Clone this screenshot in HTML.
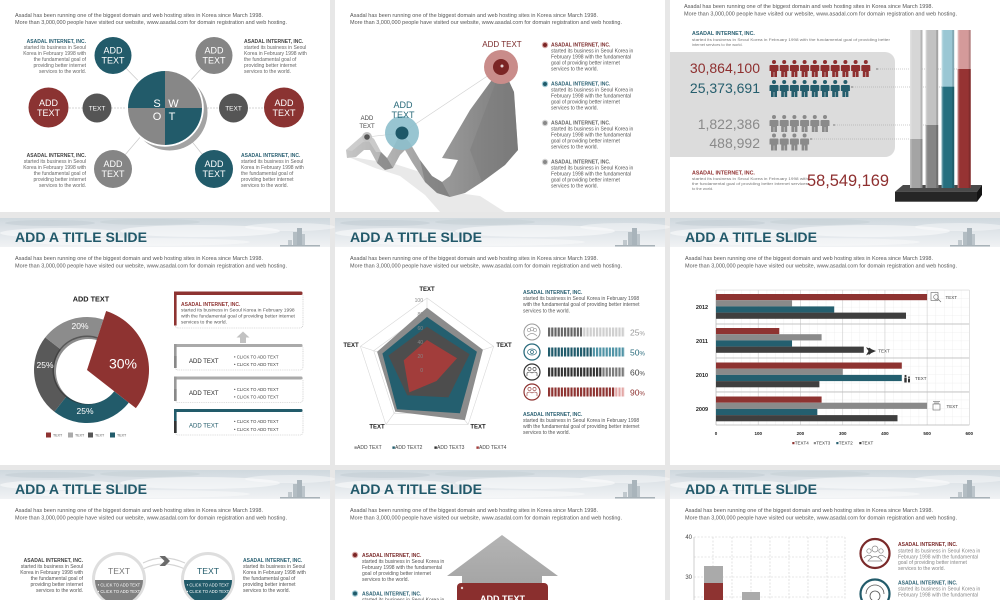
<!DOCTYPE html>
<html><head><meta charset="utf-8"><style>
html,body{margin:0;padding:0;background:#e7e7e7;}
svg{display:block;}
text{font-family:"Liberation Sans",Arial,sans-serif;}
</style></head><body>
<svg width="1000" height="600" viewBox="0 0 1000 600" xmlns="http://www.w3.org/2000/svg">
<defs>
<linearGradient id="sky" x1="0" y1="0" x2="0" y2="1">
<stop offset="0" stop-color="#cfd8de"/><stop offset="0.5" stop-color="#e1e6ea"/><stop offset="1" stop-color="#f0f2f4"/>
</linearGradient>
<linearGradient id="rib" x1="0" y1="0" x2="1" y2="0">
<stop offset="0" stop-color="#c6c6c6"/><stop offset="0.45" stop-color="#a2a2a2"/><stop offset="1" stop-color="#7a7a7a"/>
</linearGradient>
<linearGradient id="arr" x1="0" y1="0" x2="0" y2="1">
<stop offset="0" stop-color="#b4b4b4"/><stop offset="1" stop-color="#a0a0a0"/>
</linearGradient>
<pattern id="seg" x="548" y="0" width="3.2" height="10" patternUnits="userSpaceOnUse"><rect x="2.2" y="0" width="1" height="10" fill="#fff"/></pattern>
<pattern id="hgrid" x="716" y="290" width="8.444" height="8.4375" patternUnits="userSpaceOnUse"><path d="M0,0 V8.4375 M0,0 H8.444" stroke="#e3e3e3" stroke-width="0.5" fill="none"/></pattern>
<g id="pp"><circle cx="0" cy="2" r="2"/><path d="M-3.5,5h7a1,1 0 0 1 1,1v5h-1.5v6h-2.7v-5h-0.6v5h-2.7v-6h-1.5v-5a1,1 0 0 1 1,-1z"/></g>
<g id="hdr">
<rect x="0" y="0" width="330" height="29" fill="url(#sky)"/>
<ellipse cx="50" cy="5" rx="45" ry="3" fill="#c3cdd4" opacity="0.6"/>
<ellipse cx="150" cy="4" rx="50" ry="3" fill="#c7d0d6" opacity="0.6"/>
<ellipse cx="60" cy="15" rx="60" ry="5" fill="#fff" opacity="0.5"/>
<ellipse cx="200" cy="13" rx="80" ry="6" fill="#fff" opacity="0.5"/>
<ellipse cx="290" cy="9" rx="45" ry="4" fill="#fff" opacity="0.4"/>
<ellipse cx="140" cy="24" rx="110" ry="4" fill="#fff" opacity="0.4"/>
<rect x="293" y="14" width="4" height="14" fill="#b3bdc3"/>
<rect x="297" y="10" width="5" height="18" fill="#a9b4bb"/>
<rect x="302" y="16" width="3" height="12" fill="#bcc5cb"/>
<rect x="288" y="22" width="4" height="6" fill="#c0c8cd"/>
<rect x="280" y="27" width="40" height="1.5" fill="#a8b2b8"/>
<text x="15" y="24" font-size="14" font-weight="bold" fill="#22596a" textLength="132" lengthAdjust="spacingAndGlyphs">ADD A TITLE SLIDE</text>
<text x="15" y="42" font-size="5.5" fill="#555" textLength="248" lengthAdjust="spacingAndGlyphs">Asadal has been running one of the biggest domain and web hosting sites in Korea since March 1998.</text>
<text x="15" y="49.5" font-size="5.5" fill="#555" textLength="272" lengthAdjust="spacingAndGlyphs">More than 3,000,000 people have visited our website, www.asadal.com for domain registration and web hosting.</text>
</g>
</defs>

<rect width="1000" height="600" fill="#e7e7e7"/>
<rect x="0" y="0" width="330" height="212" fill="#fff"/>
<rect x="335" y="0" width="330" height="212" fill="#fff"/>
<rect x="670" y="0" width="330" height="212" fill="#fff"/>
<rect x="0" y="218" width="330" height="247" fill="#fff"/>
<rect x="335" y="218" width="330" height="247" fill="#fff"/>
<rect x="670" y="218" width="330" height="247" fill="#fff"/>
<rect x="0" y="470" width="330" height="130" fill="#fff"/>
<rect x="335" y="470" width="330" height="130" fill="#fff"/>
<rect x="670" y="470" width="330" height="130" fill="#fff"/>

<use href="#hdr" x="0" y="218"/>
<use href="#hdr" x="335" y="218"/>
<use href="#hdr" x="670" y="218"/>
<use href="#hdr" x="0" y="470"/>
<use href="#hdr" x="335" y="470"/>
<use href="#hdr" x="670" y="470"/>

<!-- ROW1 PANEL1 SWOT -->
<text x="15" y="17" font-size="5.5" fill="#555" textLength="248" lengthAdjust="spacingAndGlyphs">Asadal has been running one of the biggest domain and web hosting sites in Korea since March 1998.</text>
<text x="15" y="24" font-size="5.5" fill="#555" textLength="272" lengthAdjust="spacingAndGlyphs">More than 3,000,000 people have visited our website, www.asadal.com for domain registration and web hosting.</text>
<g stroke="#c8c8c8" stroke-width="0.7" fill="none">
<line x1="113" y1="55" x2="165" y2="108"/>
<line x1="214" y1="55" x2="165" y2="108"/>
<line x1="113" y1="169" x2="165" y2="108"/>
<line x1="214" y1="169" x2="165" y2="108"/>
<line x1="48" y1="108" x2="284" y2="108" stroke-dasharray="2 1"/>
</g>
<circle cx="169.5" cy="112.5" r="38" fill="#a3a3a3"/>
<circle cx="165" cy="108" r="38.8" fill="#fff"/>
<path d="M165,108 L128,108 A37,37 0 0 1 165,71 Z" fill="#225b6a"/>
<path d="M165,108 L165,71 A37,37 0 0 1 202,108 Z" fill="#878787"/>
<path d="M165,108 L202,108 A37,37 0 0 1 165,145 Z" fill="#225b6a"/>
<path d="M165,108 L165,145 A37,37 0 0 1 128,108 Z" fill="#878787"/>
<g fill="#fff" font-size="11" text-anchor="middle">
<text x="157" y="107">S</text><text x="173.5" y="107">W</text>
<text x="157" y="120">O</text><text x="172" y="120">T</text>
</g>
<circle cx="113" cy="55.5" r="18.5" fill="#225b6a"/>
<circle cx="214" cy="55.5" r="18.5" fill="#858585"/>
<circle cx="113" cy="169" r="19" fill="#858585"/>
<circle cx="214" cy="169" r="19" fill="#225b6a"/>
<circle cx="48.5" cy="107.5" r="20" fill="#8b3332"/>
<circle cx="284" cy="107.5" r="20" fill="#8b3332"/>
<circle cx="97" cy="108" r="14.5" fill="#555"/>
<circle cx="233.5" cy="108" r="14.5" fill="#555"/>
<g fill="#fff" font-size="9" text-anchor="middle">
<text x="113" y="53.5">ADD</text><text x="113" y="63.5">TEXT</text>
<text x="214" y="53.5">ADD</text><text x="214" y="63.5">TEXT</text>
<text x="113" y="167">ADD</text><text x="113" y="177">TEXT</text>
<text x="214" y="167">ADD</text><text x="214" y="177">TEXT</text>
<text x="48.5" y="106">ADD</text><text x="48.5" y="116">TEXT</text>
<text x="284" y="106">ADD</text><text x="284" y="116">TEXT</text>
<text x="97" y="110.5" font-size="6.5">TEXT</text>
<text x="233.5" y="110.5" font-size="6.5">TEXT</text>
</g>
<g font-size="5" fill="#666" text-anchor="end">
<text x="86" y="43" font-weight="bold" fill="#2a6072">ASADAL INTERNET, INC.</text>
<text x="86" y="49">started its business in Seoul</text>
<text x="86" y="55">Korea in February 1998 with</text>
<text x="86" y="61">the fundamental goal of</text>
<text x="86" y="67">providing better internet</text>
<text x="86" y="73">services to the world.</text>
<text x="86" y="157" font-weight="bold" fill="#444">ASADAL INTERNET, INC.</text>
<text x="86" y="163">started its business in Seoul</text>
<text x="86" y="169">Korea in February 1998 with</text>
<text x="86" y="175">the fundamental goal of</text>
<text x="86" y="181">providing better internet</text>
<text x="86" y="187">services to the world.</text>
</g>
<g font-size="5" fill="#666">
<text x="244" y="43" font-weight="bold" fill="#444">ASADAL INTERNET, INC.</text>
<text x="244" y="49">started its business in Seoul</text>
<text x="244" y="55">Korea in February 1998 with</text>
<text x="244" y="61">the fundamental goal of</text>
<text x="244" y="67">providing better internet</text>
<text x="244" y="73">services to the world.</text>
<text x="241" y="157" font-weight="bold" fill="#2a6072">ASADAL INTERNET, INC.</text>
<text x="241" y="163">started its business in Seoul</text>
<text x="241" y="169">Korea in February 1998 with</text>
<text x="241" y="175">the fundamental goal of</text>
<text x="241" y="181">providing better internet</text>
<text x="241" y="187">services to the world.</text>
</g>

<!-- ROW1 PANEL2 ARROW -->
<text x="350" y="17" font-size="5.5" fill="#555" textLength="248" lengthAdjust="spacingAndGlyphs">Asadal has been running one of the biggest domain and web hosting sites in Korea since March 1998.</text>
<text x="350" y="24" font-size="5.5" fill="#555" textLength="272" lengthAdjust="spacingAndGlyphs">More than 3,000,000 people have visited our website, www.asadal.com for domain registration and web hosting.</text>
<path d="M346,156 L375,168 L400,176 L425,195 L440,212 L505,212 L480,196 L450,192 L420,172 L395,164 L370,160 Z" fill="#e9e9e9"/>
<path d="M346,150 L355,142 L362,136 L368,134 L374,139 L381,152 L387,158 L393,148 L398,138 L404,136 L410,143 L420,160 L432,176 L442,182 L450,176 L458,160 L442,158 L470,110 L502,66 L514,92 L518,150 L505,165 L482,182 L465,193 L450,197 L437,193 L425,182 L412,162 L405,150 L400,155 L393,168 L385,170 L377,163 L370,150 L364,150 L356,157 L347,158 Z" fill="url(#rib)"/>
<path d="M346,150 L355,142 L362,136 L368,134 L374,139 L381,152 L376,152 L369,141 L363,142 L352,151 Z" fill="#d2d2d2" opacity="0.7"/>
<path d="M381,152 L387,158 L393,168 L385,170 L377,163 Z" fill="#777" opacity="0.6"/>
<path d="M420,160 L432,176 L442,182 L450,197 L437,193 L425,182 Z" fill="#6e6e6e" opacity="0.5"/>
<path d="M502,66 L514,92 L518,150 L505,165 L482,182 L470,150 Z" fill="#7b7b7b" opacity="0.45"/>
<polyline points="367,137 402,133 501,67" fill="none" stroke="#cfcfcf" stroke-width="0.6"/>
<circle cx="501" cy="67" r="17" fill="#c98c8a"/>
<circle cx="501" cy="67" r="8" fill="#7b2525"/>
<circle cx="502" cy="66" r="1.5" fill="#fff" opacity="0.8"/>
<circle cx="402" cy="133" r="17" fill="#8dbfcc" opacity="0.9"/>
<circle cx="402" cy="133" r="6.5" fill="#1d5868"/>
<circle cx="367" cy="137" r="5" fill="#c4c4c4"/>
<circle cx="367" cy="137" r="2.8" fill="#555"/>
<text x="502" y="47" font-size="8" fill="#7a2a2a" text-anchor="middle">ADD TEXT</text>
<text x="403" y="108" font-size="9" fill="#2a6a7a" text-anchor="middle">ADD</text>
<text x="403" y="118" font-size="9" fill="#2a6a7a" text-anchor="middle">TEXT</text>
<text x="367" y="120" font-size="6" fill="#444" text-anchor="middle">ADD</text>
<text x="367" y="128" font-size="6" fill="#444" text-anchor="middle">TEXT</text>
<circle cx="545" cy="45" r="3.2" fill="#d4a3a2"/><circle cx="545" cy="45" r="2" fill="#7b2525"/>
<circle cx="545" cy="84" r="3.2" fill="#9cc7d2"/><circle cx="545" cy="84" r="2" fill="#1f5a6a"/>
<circle cx="545" cy="123" r="3.2" fill="#d2d2d2"/><circle cx="545" cy="123" r="2" fill="#888"/>
<circle cx="545" cy="162" r="3.2" fill="#d2d2d2"/><circle cx="545" cy="162" r="2" fill="#888"/>
<g font-size="5" fill="#555">
<text x="551" y="46.5" font-weight="bold" fill="#7a2a2a">ASADAL INTERNET, INC.</text>
<text x="551" y="52.5">started its business in Seoul Korea in</text>
<text x="551" y="58.5">February 1998 with the fundamental</text>
<text x="551" y="64.5">goal of  providing better internet</text>
<text x="551" y="70.5">services to the world.</text>
<text x="551" y="85.5" font-weight="bold" fill="#2a6072">ASADAL INTERNET, INC.</text>
<text x="551" y="91.5">started its business in Seoul Korea in</text>
<text x="551" y="97.5">February 1998 with the fundamental</text>
<text x="551" y="103.5">goal of  providing better internet</text>
<text x="551" y="109.5">services to the world.</text>
<text x="551" y="124.5" font-weight="bold" fill="#666">ASADAL INTERNET, INC.</text>
<text x="551" y="130.5">started its business in Seoul Korea in</text>
<text x="551" y="136.5">February 1998 with the fundamental</text>
<text x="551" y="142.5">goal of  providing better internet</text>
<text x="551" y="148.5">services to the world.</text>
<text x="551" y="163.5" font-weight="bold" fill="#666">ASADAL INTERNET, INC.</text>
<text x="551" y="169.5">started its business in Seoul Korea in</text>
<text x="551" y="175.5">February 1998 with the fundamental</text>
<text x="551" y="181.5">goal of  providing better internet</text>
<text x="551" y="187.5">services to the world.</text>
</g>

<!-- ROW1 PANEL3 -->
<text x="684" y="8" font-size="5.5" fill="#555" textLength="249" lengthAdjust="spacingAndGlyphs">Asadal has been running one of the biggest domain and web hosting sites in Korea since March 1998.</text>
<text x="684" y="15.5" font-size="5.5" fill="#555" textLength="273" lengthAdjust="spacingAndGlyphs">More than 3,000,000 people have visited our website, www.asadal.com for domain registration and web hosting.</text>
<text x="692" y="35" font-size="5.3" font-weight="bold" fill="#2a6072">ASADAL INTERNET, INC.</text>
<text x="692" y="41" font-size="3.9" fill="#777" textLength="198" lengthAdjust="spacingAndGlyphs">started its business in Seoul Korea in February 1998 with the fundamental goal of  providing better</text>
<text x="692" y="46" font-size="3.9" fill="#777">internet services to the world.</text>
<path d="M670,52 H885 A10,10 0 0 1 895,62 V147 A10,10 0 0 1 885,157 H670 Z" fill="#dcdcdc"/>
<g font-size="14" text-anchor="end">
<text x="760" y="73" fill="#8e2f2f">30,864,100</text>
<text x="760" y="93" fill="#255e6d">25,373,691</text>
<text x="760" y="129" fill="#8a8a8a">1,822,386</text>
<text x="760" y="148" fill="#8a8a8a">488,992</text>
</g>
<g fill="#8e2f2f">
<use href="#pp" x="774" y="60"/><use href="#pp" x="784.2" y="60"/><use href="#pp" x="794.4" y="60"/><use href="#pp" x="804.6" y="60"/><use href="#pp" x="814.8" y="60"/><use href="#pp" x="825" y="60"/><use href="#pp" x="835.2" y="60"/><use href="#pp" x="845.4" y="60"/><use href="#pp" x="855.6" y="60"/><use href="#pp" x="865.8" y="60"/>
</g>
<g fill="#255e6d">
<use href="#pp" x="774" y="80"/><use href="#pp" x="784.2" y="80"/><use href="#pp" x="794.4" y="80"/><use href="#pp" x="804.6" y="80"/><use href="#pp" x="814.8" y="80"/><use href="#pp" x="825" y="80"/><use href="#pp" x="835.2" y="80"/><use href="#pp" x="845.4" y="80"/>
</g>
<g fill="#8a8a8a">
<use href="#pp" x="774" y="115"/><use href="#pp" x="784.2" y="115"/><use href="#pp" x="794.4" y="115"/><use href="#pp" x="804.6" y="115"/><use href="#pp" x="814.8" y="115"/><use href="#pp" x="825" y="115"/>
<use href="#pp" x="774" y="133.5"/><use href="#pp" x="784.2" y="133.5"/><use href="#pp" x="794.4" y="133.5"/><use href="#pp" x="804.6" y="133.5"/>
</g>
<g stroke="#9a9a9a" stroke-width="0.6" stroke-dasharray="1 1" fill="none">
<line x1="878" y1="69" x2="958" y2="69"/>
<line x1="853" y1="87" x2="942" y2="87"/>
<line x1="835" y1="125" x2="926" y2="125"/>
<line x1="812" y1="139" x2="910" y2="139"/>
</g>
<g fill="#888"><circle cx="877" cy="69" r="0.9"/><circle cx="852" cy="87" r="0.9"/><circle cx="834" cy="125" r="0.9"/><circle cx="811" cy="139" r="0.9"/></g>
<polygon points="895,191.7 903,185 982,185 977,191.7" fill="#4a4a4a"/>
<rect x="895" y="191.7" width="82" height="10" fill="#262626"/>
<polygon points="977,191.7 982,185 982,195 977,201.7" fill="#141414"/>
<rect x="910" y="30" width="12.5" height="158" fill="#d6d6d6"/><rect x="910" y="139" width="12.5" height="49" fill="#a4a4a4"/>
<rect x="925.7" y="30" width="12.5" height="158" fill="#c2c2c2"/><rect x="925.7" y="125" width="12.5" height="63" fill="#858585"/>
<rect x="941.7" y="30" width="12.5" height="158" fill="#9ac7d4"/><rect x="941.7" y="86.7" width="12.5" height="101.3" fill="#266f7f"/>
<rect x="957.7" y="30" width="13" height="158" fill="#d49a9a"/><rect x="957.7" y="69" width="13" height="119" fill="#963333"/>
<g fill="#000" opacity="0.15">
<rect x="920.5" y="30" width="2" height="158"/><rect x="936.2" y="30" width="2" height="158"/><rect x="952.2" y="30" width="2" height="158"/><rect x="968.7" y="30" width="2" height="158"/>
</g>
<g fill="#fff" opacity="0.25">
<rect x="910" y="30" width="1.5" height="158"/><rect x="925.7" y="30" width="1.5" height="158"/><rect x="941.7" y="30" width="1.5" height="158"/><rect x="957.7" y="30" width="1.5" height="158"/>
</g>
<text x="692" y="174.5" font-size="5.3" font-weight="bold" fill="#8e2f2f">ASADAL INTERNET, INC.</text>
<text x="692" y="180" font-size="3.9" fill="#777" textLength="116" lengthAdjust="spacingAndGlyphs">started its business in Seoul Korea in February 1998 with</text>
<text x="692" y="185" font-size="3.9" fill="#777" textLength="116" lengthAdjust="spacingAndGlyphs">the fundamental goal of  providing better internet services</text>
<text x="692" y="190" font-size="3.9" fill="#777">to the world.</text>
<text x="807" y="186" font-size="16.4" fill="#8e2f2f" textLength="82" lengthAdjust="spacingAndGlyphs">58,549,169</text>

<!-- ROW2 PANEL1 DONUT -->
<text x="91" y="301.5" font-size="7.3" font-weight="bold" fill="#222" text-anchor="middle">ADD TEXT</text>
<path d="M128.76,402.63 A53,53 0 0 1 54.37,411.76 L66.68,396.0 A33,33 0 0 0 113.0,390.32 Z" fill="#225b6a"/>
<path d="M54.37,411.76 A53,53 0 0 1 45.24,337.37 L61.0,349.68 A33,33 0 0 0 66.68,396.0 Z" fill="#595959"/>
<path d="M45.24,337.37 A53,53 0 0 1 103.38,319.59 L97.2,338.61 A33,33 0 0 0 61.0,349.68 Z" fill="#8c8c8c"/>
<circle cx="87" cy="370" r="34.5" fill="#2e2e2e" opacity="0.55"/>
<circle cx="88.5" cy="371.5" r="32.5" fill="#fff"/>
<path d="M87,370 L106.16,311.03 A62,62 0 0 1 135.86,408.17 Z" fill="#8e3331"/>
<g fill="#fff" text-anchor="middle">
<text x="80" y="329" font-size="8.5">20%</text>
<text x="45" y="368" font-size="8.5">25%</text>
<text x="85" y="414" font-size="8.5">25%</text>
<text x="123" y="368.5" font-size="14">30%</text>
</g>
<g font-size="3.6" fill="#555">
<rect x="46" y="432.5" width="5" height="5" fill="#8e3331"/><text x="53" y="436.5">TEXT</text>
<rect x="68" y="432.5" width="5" height="5" fill="#aaa"/><text x="75" y="436.5">TEXT</text>
<rect x="88" y="432.5" width="5" height="5" fill="#555"/><text x="95" y="436.5">TEXT</text>
<rect x="110" y="432.5" width="5" height="5" fill="#225b6a"/><text x="117" y="436.5">TEXT</text>
</g>
<g fill="none" stroke="#bbb" stroke-width="0.6" stroke-dasharray="1 0.8">
<rect x="175" y="293" width="128" height="35" rx="3"/>
<rect x="175" y="345" width="128" height="25" rx="3"/>
<rect x="175" y="377.5" width="128" height="25" rx="3"/>
<rect x="175" y="410" width="128" height="25" rx="3"/>
</g>
<rect x="174" y="291.5" width="128.5" height="3.5" rx="1.5" fill="#8e3331"/>
<rect x="174" y="291.5" width="2.6" height="34" fill="#8e3331"/>
<rect x="174" y="344" width="128.5" height="3" rx="1.2" fill="#aaa"/>
<rect x="174" y="344" width="2.6" height="24" fill="#999"/><rect x="174" y="356" width="2.6" height="12" fill="#888"/>
<rect x="174" y="376.5" width="128.5" height="3" rx="1.2" fill="#aaa"/>
<rect x="174" y="376.5" width="2.6" height="24" fill="#999"/><rect x="174" y="389" width="2.6" height="12" fill="#888"/>
<rect x="174" y="409" width="128.5" height="3" rx="1.2" fill="#225b6a"/>
<rect x="174" y="409" width="2.6" height="24" fill="#225b6a"/><rect x="174" y="421" width="2.6" height="12" fill="#333"/>
<text x="181" y="306" font-size="5" font-weight="bold" fill="#8e3331">ASADAL INTERNET, INC.</text>
<g font-size="4.9" fill="#555">
<text x="181" y="311.5">started its business in Seoul Korea in February 1998</text>
<text x="181" y="317.5">with the fundamental goal of  providing better internet</text>
<text x="181" y="323.5">services to the world.</text>
</g>
<polygon points="243,331.5 236.5,337.5 240,337.5 240,343 246,343 246,337.5 249.5,337.5" fill="#c2c2c2"/>
<g font-size="6" fill="#222">
<text x="189" y="363">ADD TEXT</text>
<text x="189" y="395">ADD TEXT</text>
<text x="189" y="427.5" fill="#225b6a">ADD TEXT</text>
</g>
<g font-size="4.3" fill="#444">
<text x="234" y="358.5">• CLICK TO ADD TEXT</text><text x="234" y="366">• CLICK TO ADD TEXT</text>
<text x="234" y="391">• CLICK TO ADD TEXT</text><text x="234" y="398.5">• CLICK TO ADD TEXT</text>
<text x="234" y="423">• CLICK TO ADD TEXT</text><text x="234" y="431">• CLICK TO ADD TEXT</text>
</g>

<!-- ROW2 PANEL2 RADAR -->
<g fill="none" stroke="#d8d8d8" stroke-width="0.6">
<polygon points="427,298 493.6,346.4 468.1,424.6 385.9,424.6 360.4,346.4"/>
<polygon points="427,312 480.3,350.7 459.9,413.3 394.1,413.3 373.7,350.7"/>
<polygon points="427,326 466.9,355 451.7,402 402.3,402 387.1,355"/>
<polygon points="427,340 453.6,359.3 443.5,390.7 410.5,390.7 400.4,359.3"/>
<polygon points="427,354 440.3,363.7 435.2,379.3 418.8,379.3 413.7,363.7"/>
<line x1="427" y1="368" x2="427" y2="298"/><line x1="427" y1="368" x2="493.6" y2="346.4"/><line x1="427" y1="368" x2="468.1" y2="424.6"/><line x1="427" y1="368" x2="385.9" y2="424.6"/><line x1="427" y1="368" x2="360.4" y2="346.4"/>
</g>
<polygon points="427,307.8 482.9,349.8 464.9,420.1 395.3,411.6 377.1,351.8" fill="#8c8c8c"/>
<polygon points="427,316.9 476.9,351.8 459.9,413.3 397,409.3 382.4,353.5" fill="#245f6f"/>
<polygon points="427,326.7 469.6,354.2 448.4,397.4 407.2,395.2 388.4,355.5" fill="#4d4d4d"/>
<polygon points="427,340 457,358.3 436.5,381 409.3,392.4 403.7,360.4" fill="#a23d3b"/>
<g font-size="5" fill="#888" text-anchor="end">
<text x="423" y="302">100</text><text x="423" y="316">80</text><text x="423" y="330">60</text><text x="423" y="344">40</text><text x="423" y="358">20</text><text x="423" y="372">0</text>
</g>
<g font-size="6" font-weight="bold" fill="#222" text-anchor="middle">
<text x="427" y="291">TEXT</text>
<text x="351" y="347">TEXT</text>
<text x="504" y="347">TEXT</text>
<text x="377" y="428.5">TEXT</text>
<text x="478" y="428.5">TEXT</text>
</g>
<g font-size="5" fill="#444">
<text x="354" y="449"><tspan fill="#999">■</tspan>ADD TEXT</text>
<text x="392" y="449"><tspan fill="#245f6f">■</tspan>ADD TEXT2</text>
<text x="434" y="449"><tspan fill="#333">■</tspan>ADD TEXT3</text>
<text x="476" y="449"><tspan fill="#a23d3b">■</tspan>ADD TEXT4</text>
</g>
<text x="523" y="294" font-size="5" font-weight="bold" fill="#2a6072">ASADAL INTERNET, INC.</text>
<g font-size="5" fill="#555">
<text x="523" y="300">started its business in Seoul Korea in February 1998</text>
<text x="523" y="306">with the fundamental goal of  providing better internet</text>
<text x="523" y="312.5">services to the world.</text>
</g>
<text x="523" y="416" font-size="5" font-weight="bold" fill="#2a6072">ASADAL INTERNET, INC.</text>
<g font-size="5" fill="#555">
<text x="523" y="422">started its business in Seoul Korea in February 1998</text>
<text x="523" y="428">with the fundamental goal of  providing better internet</text>
<text x="523" y="434">services to the world.</text>
</g>
<circle cx="532" cy="332" r="8" fill="#fff" stroke="#999" stroke-width="1"/>
<g fill="none" stroke="#999" stroke-width="0.6"><circle cx="529" cy="330" r="1.6"/><circle cx="535" cy="330" r="1.6"/><circle cx="532" cy="329" r="1.8"/><path d="M527,336 q5,-5 10,0"/></g>
<circle cx="532" cy="352" r="8" fill="#fff" stroke="#2a6b7c" stroke-width="1.3"/>
<g fill="none" stroke="#2a6b7c" stroke-width="0.7"><ellipse cx="532" cy="352" rx="4.5" ry="3"/><circle cx="532" cy="352" r="1.5"/></g>
<circle cx="532" cy="372" r="8" fill="#fff" stroke="#333" stroke-width="1.2"/>
<g fill="none" stroke="#333" stroke-width="0.6"><circle cx="529.5" cy="369" r="1.6"/><circle cx="534.5" cy="369" r="1.6"/><path d="M527,376 v-3 q2.5,-2 5,0 q2.5,-2 5,0 v3"/></g>
<circle cx="532" cy="392" r="8" fill="#fff" stroke="#8e3331" stroke-width="1.2"/>
<g fill="none" stroke="#8e3331" stroke-width="0.6"><circle cx="529.5" cy="389" r="1.6"/><circle cx="534.5" cy="389" r="1.6"/><path d="M527,396 v-3 q2.5,-2 5,0 q2.5,-2 5,0 v3"/></g>
<rect x="548" y="327.5" width="34" height="9" fill="#666"/><rect x="582" y="327.5" width="43" height="9" fill="#cfcfcf"/>
<rect x="548" y="347.5" width="44" height="9" fill="#1f5a6a"/><rect x="592" y="347.5" width="33" height="9" fill="#4f93a5"/>
<rect x="548" y="367.5" width="54" height="9" fill="#333"/><rect x="602" y="367.5" width="23" height="9" fill="#7a7a7a"/>
<rect x="548" y="387.5" width="67" height="9" fill="#8e3331"/><rect x="615" y="387.5" width="10" height="9" fill="#e3a7a6"/>
<rect x="548" y="327" width="78" height="70" fill="url(#seg)"/>
<g font-size="8.5">
<text x="630" y="335.5" fill="#999">25<tspan font-size="6">%</tspan></text>
<text x="630" y="355.5" fill="#2a6b7c">50<tspan font-size="6">%</tspan></text>
<text x="630" y="375.5" fill="#444">60<tspan font-size="6">%</tspan></text>
<text x="630" y="395.5" fill="#8e3331">90<tspan font-size="6">%</tspan></text>
</g>

<!-- ROW2 PANEL3 HBAR -->
<rect x="716" y="290" width="253" height="135" fill="url(#hgrid)"/>
<g stroke="#d0d0d0" stroke-width="0.6">
<line x1="758.2" y1="290" x2="758.2" y2="425"/><line x1="800.4" y1="290" x2="800.4" y2="425"/><line x1="842.7" y1="290" x2="842.7" y2="425"/><line x1="884.9" y1="290" x2="884.9" y2="425"/><line x1="927.1" y1="290" x2="927.1" y2="425"/><line x1="969.3" y1="290" x2="969.3" y2="425"/>
<line x1="716" y1="290" x2="969.3" y2="290"/>
</g>
<g stroke="#b5b5b5" stroke-width="0.7">
<line x1="716" y1="324" x2="969.3" y2="324"/><line x1="716" y1="358" x2="969.3" y2="358"/><line x1="716" y1="392" x2="969.3" y2="392"/>
<line x1="716" y1="290" x2="716" y2="425"/><line x1="716" y1="425" x2="969.3" y2="425"/>
</g>
<g>
<rect x="716" y="294" width="211.1" height="6.2" fill="#8e3331"/><rect x="716" y="300.2" width="76" height="6.2" fill="#8a8a8a"/><rect x="716" y="306.4" width="118.2" height="6.2" fill="#245f6f"/><rect x="716" y="312.6" width="190" height="6.2" fill="#3f3f3f"/>
<rect x="716" y="328" width="63.3" height="6.2" fill="#8e3331"/><rect x="716" y="334.2" width="105.6" height="6.2" fill="#8a8a8a"/><rect x="716" y="340.4" width="76" height="6.2" fill="#245f6f"/><rect x="716" y="346.6" width="147.8" height="6.2" fill="#3f3f3f"/>
<rect x="716" y="362.5" width="185.8" height="6.2" fill="#8e3331"/><rect x="716" y="368.7" width="126.7" height="6.2" fill="#8a8a8a"/><rect x="716" y="374.9" width="185.8" height="6.2" fill="#245f6f"/><rect x="716" y="381.1" width="103.4" height="6.2" fill="#3f3f3f"/>
<rect x="716" y="396.5" width="105.6" height="6.2" fill="#8e3331"/><rect x="716" y="402.7" width="211.1" height="6.2" fill="#8a8a8a"/><rect x="716" y="408.9" width="101.3" height="6.2" fill="#245f6f"/><rect x="716" y="415.1" width="181.5" height="6.2" fill="#3f3f3f"/>
</g>
<g font-size="5.5" font-weight="bold" fill="#222" text-anchor="middle">
<text x="702" y="309">2012</text><text x="702" y="343">2011</text><text x="702" y="377">2010</text><text x="702" y="411">2009</text>
</g>
<g font-size="4.5" font-weight="bold" fill="#222" text-anchor="middle">
<text x="716" y="435">0</text><text x="758.2" y="435">100</text><text x="800.4" y="435">200</text><text x="842.7" y="435">300</text><text x="884.9" y="435">400</text><text x="927.1" y="435">500</text><text x="969.3" y="435">600</text>
</g>
<g font-size="4.5" fill="#333">
<text x="792" y="444.5"><tspan fill="#8e3331">■</tspan>TEXT4</text>
<text x="813.5" y="444.5"><tspan fill="#8a8a8a">■</tspan>TEXT3</text>
<text x="836" y="444.5"><tspan fill="#245f6f">■</tspan>TEXT2</text>
<text x="859" y="444.5"><tspan fill="#3f3f3f">■</tspan>TEXT</text>
</g>
<g fill="none" stroke="#666" stroke-width="0.6">
<rect x="931" y="292.5" width="7" height="8"/><circle cx="936" cy="297" r="2.3"/><line x1="937.7" y1="298.7" x2="941" y2="302"/>
<rect x="933" y="404" width="7" height="6"/><line x1="933" y1="401.5" x2="940" y2="401.5"/><line x1="934" y1="403" x2="939" y2="403"/>
</g>
<path d="M867,348 L875,351 L867,354.5 L869,351 Z M869,348 L872,350 M869,354.5 L872,352" fill="#333" stroke="#333" stroke-width="0.8"/>
<g fill="#333"><circle cx="905.5" cy="376" r="1.1"/><rect x="904.3" y="377.5" width="2.4" height="5"/><circle cx="909" cy="377.3" r="0.9"/><rect x="908" y="378.6" width="2" height="3.8"/></g>
<g font-size="4.5" fill="#444">
<text x="945.5" y="299">TEXT</text><text x="878.3" y="352.5">TEXT</text><text x="915" y="380">TEXT</text><text x="946.5" y="408">TEXT</text>
</g>

<!-- ROW3 PANEL1 -->
<g font-size="5" fill="#555" text-anchor="end">
<text x="83" y="562" font-weight="bold" fill="#444">ASADAL INTERNET, INC.</text>
<text x="83" y="568">started its business in Seoul</text>
<text x="83" y="574">Korea in February 1998 with</text>
<text x="83" y="580">the fundamental goal of</text>
<text x="83" y="586">providing better internet</text>
<text x="83" y="592">services to the world.</text>
</g>
<g font-size="5" fill="#555">
<text x="243" y="562" font-weight="bold" fill="#2a6072">ASADAL INTERNET, INC.</text>
<text x="243" y="568">started its business in Seoul</text>
<text x="243" y="574">Korea in February 1998 with</text>
<text x="243" y="580">the fundamental goal of</text>
<text x="243" y="586">providing better internet</text>
<text x="243" y="592">services to the world.</text>
</g>
<g fill="none" stroke="#d4d4d4" stroke-width="1.2">
<path d="M143,563 Q163,553 185,563"/><path d="M143,569 Q163,559 185,569"/>
</g>
<polygon points="159.5,556 165,556 170,561 165,566 159.5,566 164.5,561" fill="#6a6a6a"/>
<circle cx="119" cy="579" r="27" fill="#dedede"/>
<circle cx="119" cy="579" r="24" fill="#fff"/>
<path d="M95,580 A24,24 0 0 0 143,580 Z" fill="#808080"/>
<circle cx="208" cy="579" r="27" fill="#dedede"/>
<circle cx="208" cy="579" r="24" fill="#fff"/>
<path d="M184,580 A24,24 0 0 0 232,580 Z" fill="#225b6a"/>
<text x="119" y="574" font-size="8.6" fill="#777" text-anchor="middle">TEXT</text>
<text x="208" y="574" font-size="8.6" fill="#225b6a" text-anchor="middle">TEXT</text>
<g font-size="4.1" fill="#fff" text-anchor="middle">
<text x="119" y="586.5">• CLICK TO ADD TEXT</text><text x="119" y="593">• CLICK TO ADD TEXT</text>
<text x="208" y="586.5">• CLICK TO ADD TEXT</text><text x="208" y="593">• CLICK TO ADD TEXT</text>
</g>

<!-- ROW3 PANEL2 -->
<circle cx="355" cy="555" r="3.2" fill="#d4a3a2"/><circle cx="355" cy="555" r="2" fill="#7b2525"/>
<circle cx="355" cy="593.5" r="3.2" fill="#9cc7d2"/><circle cx="355" cy="593.5" r="2" fill="#1f5a6a"/>
<g font-size="5" fill="#555">
<text x="362" y="557" font-weight="bold" fill="#7a2a2a">ASADAL INTERNET, INC.</text>
<text x="362" y="563">started its business in Seoul Korea in</text>
<text x="362" y="569">February 1998 with the fundamental</text>
<text x="362" y="575">goal of  providing better internet</text>
<text x="362" y="581">services to the world.</text>
<text x="362" y="595.5" font-weight="bold" fill="#2a6072">ASADAL INTERNET, INC.</text>
<text x="362" y="601.5">started its business in Seoul Korea in</text>
</g>
<polygon points="502,535 447,576 462,576 462,600 542,600 542,576 558,576" fill="url(#arr)"/>
<rect x="457" y="583" width="91" height="25" rx="4" fill="#8a2f2e"/>
<circle cx="462" cy="588" r="1.2" fill="#fff" opacity="0.8"/>
<text x="502.5" y="602" font-size="9" font-weight="bold" fill="#fff" text-anchor="middle">ADD TEXT</text>

<!-- ROW3 PANEL3 -->
<g stroke="#d0d0d0" stroke-width="0.6" stroke-dasharray="2 1.5" fill="none">
<line x1="694" y1="537" x2="845" y2="537"/><line x1="694" y1="557" x2="845" y2="557"/><line x1="694" y1="577" x2="845" y2="577"/><line x1="694" y1="597" x2="845" y2="597"/>
<line x1="713" y1="537" x2="713" y2="600"/><line x1="732" y1="537" x2="732" y2="600"/><line x1="751" y1="537" x2="751" y2="600"/><line x1="770" y1="537" x2="770" y2="600"/><line x1="789" y1="537" x2="789" y2="600"/><line x1="808" y1="537" x2="808" y2="600"/><line x1="827" y1="537" x2="827" y2="600"/><line x1="845" y1="537" x2="845" y2="600"/>
</g>
<line x1="694" y1="537" x2="694" y2="600" stroke="#bbb" stroke-width="0.7"/>
<g font-size="6" fill="#444" text-anchor="end"><text x="692" y="539">40</text><text x="692" y="579">30</text></g>
<rect x="704" y="566" width="19" height="17" fill="#aaa"/>
<rect x="704" y="583" width="19" height="17" fill="#8e3331"/>
<rect x="742" y="592" width="18" height="8" fill="#aaa"/>
<circle cx="875" cy="553.5" r="14.5" fill="#fff" stroke="#7a2a2a" stroke-width="2.2"/>
<g fill="none" stroke="#888" stroke-width="0.7"><circle cx="875" cy="549" r="3"/><circle cx="869" cy="551" r="2.2"/><circle cx="881" cy="551" r="2.2"/><path d="M868,561 q7,-9 14,0 Z"/><path d="M864,558 q5,-5 8,-1 M886,558 q-5,-5 -8,-1"/></g>
<circle cx="875" cy="594" r="14.5" fill="#fff" stroke="#225b6a" stroke-width="2.2"/>
<g fill="none" stroke="#555" stroke-width="0.8"><path d="M866,594 a9,9 0 0 1 18,0"/><circle cx="875" cy="596" r="5"/></g>
<g font-size="5" fill="#888">
<text x="898" y="546" font-weight="bold" fill="#7a2a2a">ASADAL INTERNET, INC.</text>
<text x="898" y="552.3">started its business in Seoul Korea in</text>
<text x="898" y="558.3">February 1998 with the fundamental</text>
<text x="898" y="564.2">goal of  providing better internet</text>
<text x="898" y="570.2">services to the world.</text>
<text x="898" y="584.5" font-weight="bold" fill="#2a6072">ASADAL INTERNET, INC.</text>
<text x="898" y="590.5">started its business in Seoul Korea in</text>
<text x="898" y="596.5">February 1998 with the fundamental</text>
</g>
</svg>
</body></html>
